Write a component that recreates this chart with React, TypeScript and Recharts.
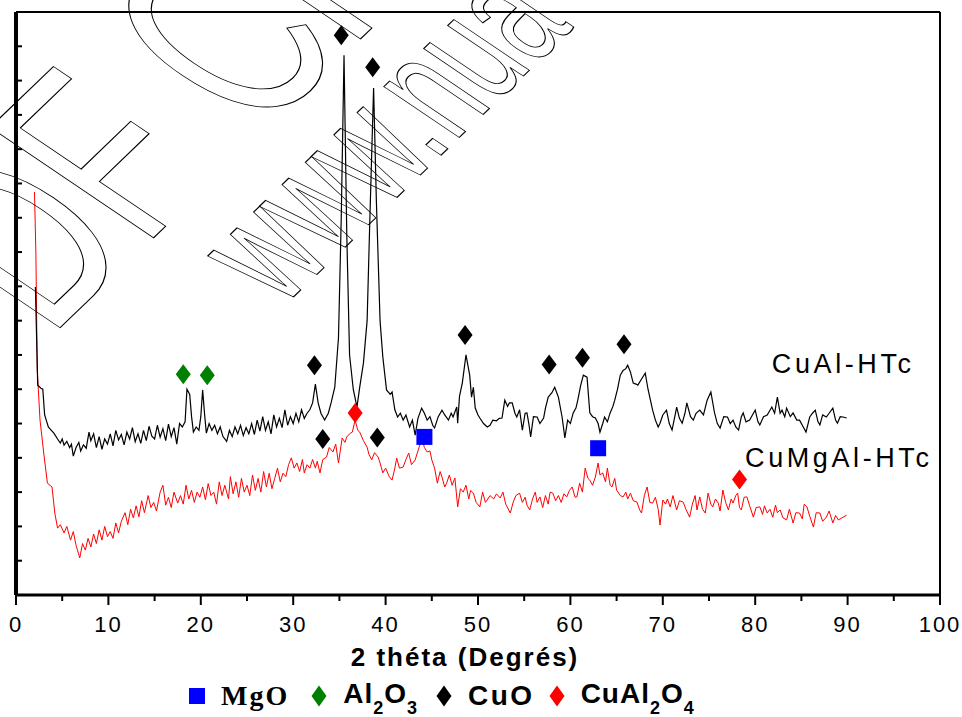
import React from "react"
import {
    ComposedChart,
    Line,
    Scatter,
    XAxis,
    YAxis,
    ReferenceDot,
} from "recharts"

// 2θ (degrees) vs intensity (a.u.)
const cuAlHTc: [number, number][] = [
    [2.1, 898], [2.35, 612], [2.7, 603], [2.9, 600], [3.1, 525], [3.5, 490], [3.8, 481], [4.1, 472], [4.5, 455],
    [4.8, 443], [5.0, 455], [5.2, 437], [5.5, 448], [5.8, 430], [6.0, 440], [6.2, 405], [6.5, 430], [6.8, 445],
    [7.0, 420], [7.3, 438], [7.6, 428], [7.9, 475], [8.1, 450], [8.4, 470], [8.7, 430], [9.0, 462], [9.3, 425],
    [9.6, 455], [9.9, 440], [10.2, 470], [10.5, 435], [10.8, 480], [11.1, 452], [11.4, 468], [11.7, 438],
    [12.0, 475], [12.3, 455], [12.6, 488], [12.9, 447], [13.2, 470], [13.5, 442], [13.8, 480], [14.1, 450],
    [14.4, 492], [14.7, 463], [15.0, 455], [15.3, 495], [15.6, 460], [15.9, 485], [16.2, 450], [16.5, 498],
    [16.8, 462], [17.1, 488], [17.4, 440], [17.7, 500], [18.0, 490], [18.3, 505], [18.5, 600], [18.8, 585],
    [19.0, 520], [19.2, 475], [19.5, 490], [19.8, 480], [20.0, 520], [20.2, 598], [20.4, 530], [20.6, 472],
    [20.9, 500], [21.2, 480], [21.5, 495], [21.8, 470], [22.1, 490], [22.4, 462], [22.8, 448], [23.1, 480],
    [23.4, 462], [23.7, 490], [24.0, 470], [24.3, 495], [24.6, 465], [24.9, 488], [25.2, 470], [25.5, 500],
    [25.8, 468], [26.1, 510], [26.4, 478], [26.7, 520], [27.0, 480], [27.3, 505], [27.6, 470], [27.9, 525],
    [28.2, 490], [28.5, 515], [28.8, 488], [29.1, 540], [29.4, 495], [29.7, 520], [30.0, 500], [30.3, 530],
    [30.6, 505], [30.9, 540], [31.2, 515], [31.5, 530], [31.8, 540], [32.1, 560], [32.4, 615], [32.7, 560],
    [33.0, 530], [33.4, 510], [33.8, 530], [34.1, 560], [34.5, 606], [34.9, 750], [35.2, 1100], [35.5, 1574],
    [35.8, 1050], [36.1, 700], [36.5, 600], [36.9, 548], [37.2, 606], [37.6, 676], [38.0, 800], [38.3, 1100],
    [38.7, 1478], [39.0, 1150], [39.4, 800], [39.7, 694], [40.1, 598], [40.5, 585], [40.7, 592], [41.0, 540],
    [41.3, 519], [41.6, 530], [41.9, 510], [42.2, 525], [42.6, 490], [42.9, 510], [43.2, 466], [43.5, 515],
    [43.9, 545], [44.2, 530], [44.5, 510], [44.8, 520], [45.1, 495], [45.3, 487], [45.7, 520], [46.1, 539],
    [46.4, 525], [46.8, 510], [47.1, 530], [47.3, 519], [47.7, 548], [47.8, 501], [48.0, 580], [48.3, 618],
    [48.7, 700], [49.1, 641], [49.3, 577], [49.5, 606], [49.7, 545], [50.0, 525], [50.2, 516], [50.6, 500],
    [51.0, 490], [51.3, 495], [51.6, 510], [52.0, 508], [52.3, 515], [52.6, 516], [52.9, 568], [53.2, 550],
    [53.4, 560], [53.7, 560], [54.0, 530], [54.2, 519], [54.5, 540], [54.8, 481], [55.1, 530], [55.3, 531],
    [55.5, 500], [55.7, 461], [56.0, 520], [56.4, 519], [56.7, 500], [57.1, 516], [57.3, 545], [57.6, 577],
    [58.0, 590], [58.3, 606], [58.7, 577], [59.1, 519], [59.4, 458], [59.7, 510], [60.0, 500], [60.3, 531],
    [60.6, 545], [60.8, 568], [61.1, 610], [61.4, 641], [61.8, 635], [62.1, 531], [62.4, 520], [62.7, 516],
    [63.0, 500], [63.2, 475], [63.5, 500], [63.7, 519], [64.0, 505], [64.3, 531], [64.6, 550], [64.8, 568],
    [65.1, 600], [65.4, 641], [65.7, 655], [66.0, 660], [66.2, 670], [66.5, 650], [66.8, 618], [67.1, 615],
    [67.3, 612], [67.7, 630], [68.1, 647], [68.4, 600], [68.9, 539], [69.2, 510], [69.5, 490], [69.7, 501],
    [70.0, 525], [70.4, 539], [70.7, 500], [71.0, 481], [71.3, 520], [71.5, 548], [71.8, 515], [72.1, 501],
    [72.4, 530], [72.6, 560], [73.0, 520], [73.3, 510], [73.6, 530], [74.0, 539], [74.4, 525], [74.8, 568],
    [75.2, 592], [75.6, 531], [75.9, 500], [76.2, 487], [76.6, 520], [77.0, 519], [77.3, 500], [77.6, 510],
    [77.9, 490], [78.2, 481], [78.5, 520], [78.7, 531], [79.0, 505], [79.4, 510], [79.7, 525], [80.0, 539],
    [80.3, 505], [80.5, 496], [80.9, 520], [81.3, 525], [81.8, 548], [82.1, 530], [82.4, 577], [82.7, 530],
    [82.9, 539], [83.2, 520], [83.4, 545], [83.8, 520], [84.1, 531], [84.5, 510], [84.8, 510], [85.2, 490],
    [85.5, 475], [85.9, 519], [86.2, 530], [86.5, 539], [86.8, 505], [87.0, 496], [87.3, 525], [87.7, 519],
    [88.0, 530], [88.4, 545], [88.7, 510], [88.9, 501], [89.2, 520], [89.5, 519], [89.9, 516],
]

const cuMgAlHTc: [number, number][] = [
    [2.0, 1175], [2.15, 1000], [2.3, 656], [2.6, 510], [3.0, 414], [3.4, 326], [3.9, 315], [4.2, 239], [4.5, 195],
    [4.8, 205], [5.2, 181], [5.5, 200], [5.9, 160], [6.2, 185], [6.5, 145], [6.9, 108], [7.2, 150], [7.5, 131],
    [7.8, 165], [8.1, 140], [8.4, 178], [8.7, 150], [9.0, 190], [9.3, 160], [9.6, 200], [9.9, 170], [10.2, 185],
    [10.5, 165], [10.8, 210], [11.1, 181], [11.4, 215], [11.8, 240], [12.1, 205], [12.4, 250], [12.7, 225],
    [13.0, 260], [13.3, 228], [13.6, 275], [13.9, 240], [14.3, 290], [14.6, 255], [14.9, 270], [15.2, 245],
    [15.6, 300], [15.9, 320], [16.2, 262], [16.5, 285], [16.8, 255], [17.1, 300], [17.5, 268], [17.8, 290],
    [18.1, 265], [18.4, 320], [18.7, 280], [19.0, 305], [19.3, 270], [19.6, 300], [19.9, 285], [20.2, 315],
    [20.5, 278], [20.8, 325], [21.1, 290], [21.4, 300], [21.7, 265], [22.0, 330], [22.3, 290], [22.6, 320],
    [23.0, 280], [23.2, 345], [23.5, 295], [23.8, 330], [24.1, 285], [24.4, 340], [24.7, 300], [25.0, 320],
    [25.3, 290], [25.6, 350], [25.9, 305], [26.2, 340], [26.5, 300], [26.8, 360], [27.1, 315], [27.4, 355],
    [27.7, 310], [28.0, 340], [28.3, 370], [28.6, 330], [28.9, 355], [29.2, 345], [29.5, 380], [29.8, 400],
    [30.1, 370], [30.4, 385], [30.7, 360], [31.0, 395], [31.2, 356], [31.5, 380], [31.8, 370], [32.1, 395],
    [32.4, 370], [32.6, 390], [32.9, 356], [33.2, 395], [33.6, 402], [33.9, 430], [34.3, 417], [34.6, 440],
    [34.9, 385], [35.3, 458], [35.6, 445], [35.8, 461], [36.1, 470], [36.4, 475], [36.7, 510], [37.0, 480],
    [37.2, 475], [37.6, 450], [38.0, 431], [38.2, 410], [38.5, 394], [38.8, 415], [39.2, 402], [39.4, 385],
    [39.7, 356], [40.0, 370], [40.4, 345], [40.7, 335], [41.0, 370], [41.2, 399], [41.5, 370], [41.9, 373],
    [42.2, 395], [42.5, 414], [42.8, 380], [43.2, 394], [43.5, 420], [43.7, 437], [44.0, 450], [44.2, 430],
    [44.5, 417], [44.8, 420], [45.0, 394], [45.3, 370], [45.6, 326], [45.9, 360], [46.1, 344], [46.4, 315],
    [46.6, 326], [46.9, 350], [47.2, 320], [47.5, 341], [47.8, 257], [48.1, 310], [48.4, 300], [48.7, 320],
    [49.0, 280], [49.2, 305], [49.5, 297], [49.8, 270], [50.2, 257], [50.5, 300], [50.8, 270], [51.0, 277],
    [51.3, 290], [51.7, 280], [52.0, 295], [52.4, 283], [52.7, 300], [53.0, 265], [53.5, 239], [53.8, 270],
    [54.1, 290], [54.5, 297], [54.8, 270], [55.1, 285], [55.3, 262], [55.6, 248], [55.9, 280], [56.2, 300],
    [56.4, 270], [56.7, 286], [57.0, 255], [57.3, 290], [57.6, 265], [57.8, 300], [58.1, 297], [58.4, 275],
    [58.7, 290], [59.0, 270], [59.3, 295], [59.6, 286], [59.9, 305], [60.2, 315], [60.5, 285], [60.7, 286],
    [61.0, 326], [61.3, 300], [61.6, 370], [61.9, 340], [62.1, 335], [62.4, 320], [62.7, 344], [63.0, 385],
    [63.2, 350], [63.5, 356], [63.8, 330], [64.0, 370], [64.3, 320], [64.5, 315], [64.8, 340], [65.0, 306],
    [65.4, 290], [65.7, 286], [66.0, 300], [66.2, 280], [66.5, 297], [66.8, 275], [67.2, 271], [67.5, 248],
    [67.7, 239], [68.0, 290], [68.3, 315], [68.6, 270], [68.9, 268], [69.2, 285], [69.5, 250], [69.7, 204],
    [70.0, 277], [70.3, 265], [70.5, 280], [70.8, 257], [71.1, 290], [71.5, 248], [71.8, 275], [72.2, 271],
    [72.5, 250], [72.9, 227], [73.2, 265], [73.5, 290], [73.7, 248], [74.0, 286], [74.3, 250], [74.6, 239],
    [74.9, 297], [75.2, 265], [75.4, 257], [75.7, 280], [76.0, 268], [76.2, 245], [76.5, 306], [76.8, 270],
    [77.1, 248], [77.4, 280], [77.6, 268], [77.9, 290], [78.1, 297], [78.3, 255], [78.5, 248], [78.8, 285],
    [79.1, 286], [79.4, 260], [79.8, 227], [80.1, 255], [80.5, 257], [80.8, 235], [81.0, 260], [81.3, 239],
    [81.6, 250], [81.9, 227], [82.2, 262], [82.4, 240], [82.7, 248], [83.0, 225], [83.4, 219], [83.7, 250],
    [84.1, 210], [84.4, 240], [84.8, 239], [85.1, 222], [85.3, 265], [85.6, 257], [85.9, 230], [86.3, 198],
    [86.6, 240], [87.0, 239], [87.3, 215], [87.7, 227], [88.0, 245], [88.4, 210], [88.7, 232], [89.0, 219],
    [89.4, 225], [89.9, 233],
]

// phase markers (2θ, height where the symbol sits)
const mgOMarks: [number, number][] = [[44.2, 461], [63.0, 428]]
const al2O3Marks: [number, number][] = [[18.1, 644], [20.7, 641]]
const cuOMarks: [number, number][] = [
    [35.2, 1632], [38.6, 1539], [32.3, 670], [33.2, 455], [39.1, 459],
    [48.6, 758], [57.7, 672], [61.3, 692], [65.8, 731],
]
const cuAl2O4Marks: [number, number][] = [[36.7, 531], [78.3, 337]]

const xTicks = [0, 5, 10, 15, 20, 25, 30, 35, 40, 45, 50, 55, 60, 65, 70, 75, 80, 85, 90, 95, 100]
const yTicks = [0, 100, 200, 300, 400, 500, 600, 700, 800, 900, 1000, 1100, 1200, 1300, 1400, 1500, 1600, 1700]

const FONT = "'Liberation Sans', Arial, sans-serif"

const toPoints = (arr: [number, number][]) => arr.map(([x, y]) => ({ x, y }))

const Diamond = (color: string) => (props: any) => {
    const { cx, cy } = props
    return (
        <polygon
            points={`${cx},${cy - 10} ${cx + 7.5},${cy} ${cx},${cy + 10} ${cx - 7.5},${cy}`}
            fill={color}
        />
    )
}

const Square = (color: string) => (props: any) => {
    const { cx, cy } = props
    return <rect x={cx - 8} y={cy - 8} width={16} height={16} fill={color} />
}

const XTick = (props: any) => {
    const { x, y, payload } = props
    const major = payload.value % 10 === 0
    return (
        <g>
            <line x1={x} x2={x} y1={y} y2={y + (major ? 10 : 6)} stroke="#000" strokeWidth={2} />
            {major && (
                <text x={x} y={y + 37} textAnchor="middle" fontSize={22} letterSpacing={2} fontFamily={FONT} fill="#000">
                    {payload.value}
                </text>
            )}
        </g>
    )
}

const YTick = (props: any) => {
    const { x, y } = props
    return <line x1={x} x2={x + 6} y1={y} y2={y} stroke="#000" strokeWidth={2} />
}

const SeriesLabel = (text: string) => (props: any) => {
    const { viewBox } = props
    return (
        <text
            x={viewBox.x + viewBox.width / 2}
            y={viewBox.y + viewBox.height / 2}
            fontSize={27}
            letterSpacing={3.6}
            fontFamily={FONT}
            fill="#000"
        >
            {text}
        </text>
    )
}

const AxisTitle = (props: any) => {
    const { viewBox } = props
    return (
        <text
            x={viewBox.x + viewBox.width / 2 - 13}
            y={viewBox.y + 71}
            textAnchor="middle"
            fontSize={26}
            fontWeight="bold"
            letterSpacing={2}
            fontFamily={FONT}
            fill="#000"
        >
            2 théta (Degrés)
        </text>
    )
}

const LegendMark = ({ shape, color }: { shape: string; color: string }) => (
    <svg width={16} height={22} style={{ display: "block" }}>
        {shape === "square" ? (
            <rect x={0} y={3} width={16} height={16} fill={color} />
        ) : (
            <polygon points="8,0.5 15.5,11 8,21.5 0.5,11" fill={color} />
        )}
    </svg>
)

const sub = { fontSize: 18, position: "relative" as const, top: 11 }

const legendItems = [
    { key: "MgO", shape: "square", color: "#0000ff", gap: 22, label: <span style={{ fontFamily: "'Liberation Serif', 'Times New Roman', serif", letterSpacing: 2 }}>MgO</span> },
    { key: "Al2O3", shape: "diamond", color: "#008000", gap: 18, label: <span>Al<span style={sub}>2</span>O<span style={sub}>3</span></span> },
    { key: "CuO", shape: "diamond", color: "#000000", gap: 14, label: <span style={{ letterSpacing: 2.5 }}>CuO</span> },
    { key: "CuAl2O4", shape: "diamond", color: "#ff0000", gap: 0, label: <span>CuAl<span style={sub}>2</span>O<span style={sub}>4</span></span> },
]

export default function App() {
    return (
        <div style={{ position: "absolute", left: 0, top: 0, width: 962, height: 717, background: "#fff" }}>
            <ComposedChart width={962} height={717} margin={{ top: 11, right: 21, bottom: 121, left: 15 }}>
                <XAxis
                    xAxisId="top"
                    orientation="top"
                    type="number"
                    domain={[0, 100]}
                    height={1}
                    tick={false}
                    tickLine={false}
                    axisLine={{ stroke: "#000", strokeWidth: 2 }}
                />
                <YAxis
                    yAxisId="right"
                    orientation="right"
                    type="number"
                    domain={[0, 1700]}
                    width={1}
                    tick={false}
                    tickLine={false}
                    axisLine={{ stroke: "#000", strokeWidth: 2 }}
                />
                <XAxis
                    type="number"
                    dataKey="x"
                    domain={[0, 100]}
                    ticks={xTicks}
                    interval={0}
                    height={1}
                    tickSize={0}
                    tickMargin={0}
                    tickLine={false}
                    tick={<XTick />}
                    axisLine={{ stroke: "#000", strokeWidth: 3 }}
                    label={{ content: <AxisTitle /> }}
                />
                <YAxis
                    type="number"
                    dataKey="y"
                    domain={[0, 1700]}
                    ticks={yTicks}
                    interval={0}
                    width={1}
                    tickSize={0}
                    tickMargin={0}
                    tickLine={false}
                    tick={<YTick />}
                    axisLine={{ stroke: "#000", strokeWidth: 4 }}
                />
                <Line
                    data={toPoints(cuMgAlHTc)}
                    dataKey="y"
                    type="linear"
                    stroke="#ff0000"
                    strokeWidth={1}
                    dot={false}
                    isAnimationActive={false}
                />
                <Line
                    data={toPoints(cuAlHTc)}
                    dataKey="y"
                    type="linear"
                    stroke="#000"
                    strokeWidth={1.2}
                    dot={false}
                    isAnimationActive={false}
                />
                <Scatter data={toPoints(mgOMarks)} dataKey="y" shape={Square("#0000ff")} isAnimationActive={false} />
                <Scatter data={toPoints(al2O3Marks)} dataKey="y" shape={Diamond("#008000")} isAnimationActive={false} />
                <Scatter data={toPoints(cuOMarks)} dataKey="y" shape={Diamond("#000")} isAnimationActive={false} />
                <Scatter data={toPoints(cuAl2O4Marks)} dataKey="y" shape={Diamond("#ff0000")} isAnimationActive={false} />
                <ReferenceDot x={81.8} y={647} r={0} fill="none" stroke="none" label={{ content: SeriesLabel("CuAl-HTc") }} />
                <ReferenceDot x={78.9} y={373} r={0} fill="none" stroke="none" label={{ content: SeriesLabel("CuMgAl-HTc") }} />
            </ComposedChart>

            {/* watermark */}
            <svg width={962} height={717} style={{ position: "absolute", left: 0, top: 0, pointerEvents: "none" }}>
                <g transform="translate(-37 421) scale(1.24 1) rotate(-50) scale(0.65 1)">
                    <text fontFamily={FONT} fontSize={250} fill="none" stroke="#000" strokeWidth={1} vectorEffect="non-scaling-stroke">
                        PDF Cr
                    </text>
                </g>
                <g transform="translate(283 307) scale(1.24 1) rotate(-50) scale(0.6 1)">
                    <text fontFamily={FONT} fontSize={150} fill="none" stroke="#000" strokeWidth={1} vectorEffect="non-scaling-stroke">
                        www.nua
                    </text>
                </g>
            </svg>

            <div
                style={{
                    position: "absolute",
                    left: 189,
                    top: 678,
                    display: "flex",
                    alignItems: "center",
                    fontFamily: FONT,
                    fontWeight: "bold",
                    fontSize: 28,
                    lineHeight: "32px",
                    letterSpacing: 1,
                    color: "#000",
                }}
            >
                {legendItems.map((it) => (
                    <div key={it.key} style={{ display: "flex", alignItems: "center", marginRight: it.gap }}>
                        <LegendMark shape={it.shape} color={it.color} />
                        <div style={{ marginLeft: 16 }}>{it.label}</div>
                    </div>
                ))}
            </div>
        </div>
    )
}
